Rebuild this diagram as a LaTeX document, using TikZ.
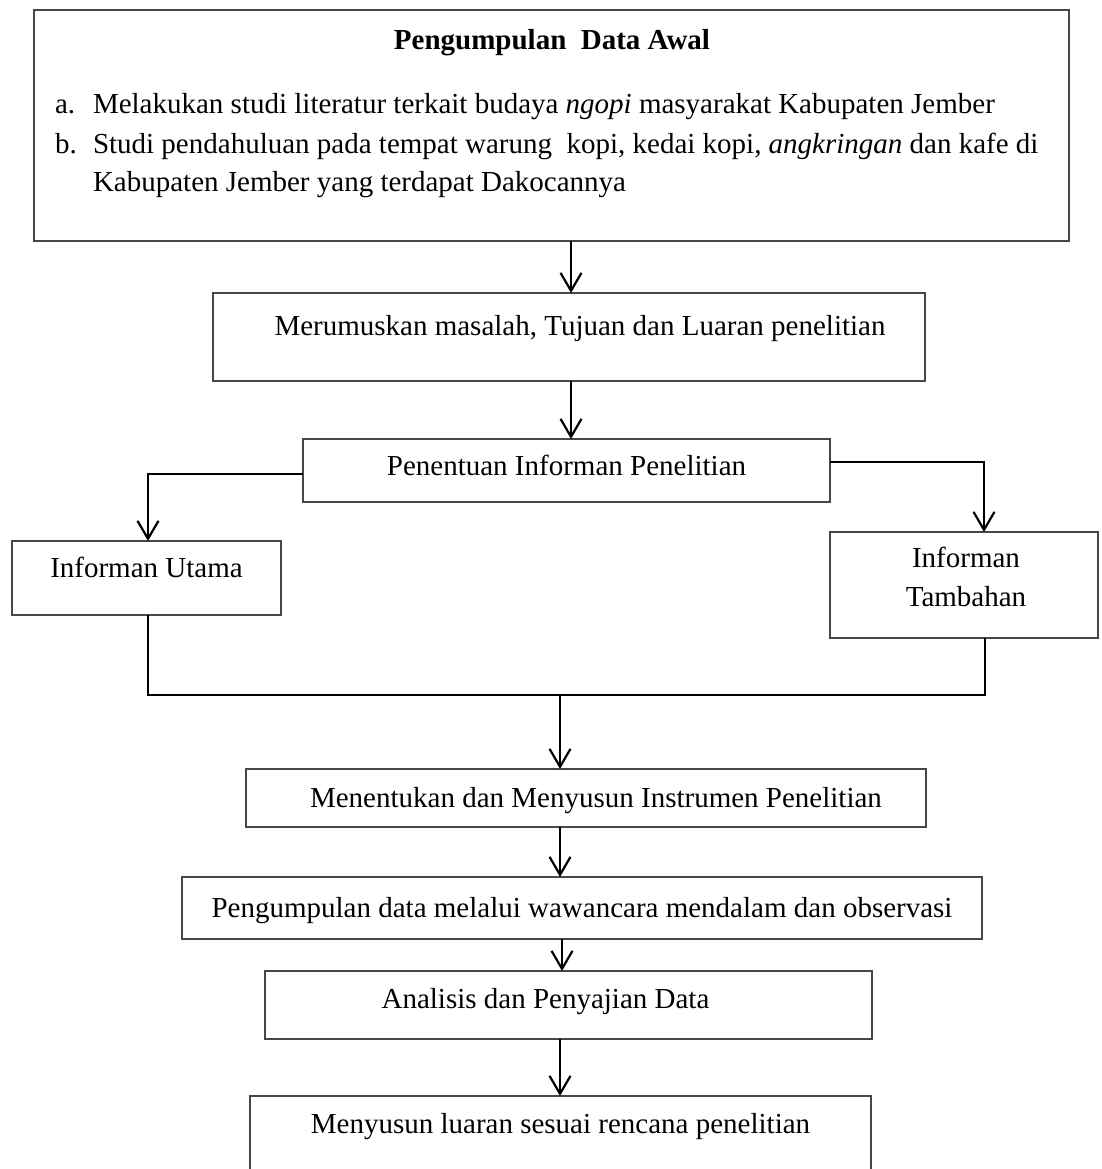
\documentclass[tikz,border=0pt]{standalone}
\usepackage{fontspec}
\setmainfont{Liberation Serif}
\usetikzlibrary{arrows.meta,calc}
\begin{document}
\begin{tikzpicture}[x=1pt,y=-1pt,
  box/.style={draw=black!72,line width=1.4pt,inner sep=0pt,outer sep=0pt},
  txt/.style={inner sep=0pt,outer sep=0pt,font=\fontsize{29pt}{35pt}\selectfont},
  arr/.style={line width=2.2pt,-{Straight Barb[length=18pt,width=21pt]}},
  ln/.style={line width=2pt}
]
\useasboundingbox (0,0) rectangle (1101,1169);
\clip (0,0) rectangle (1101,1169);
\fill[white] (0,0) rectangle (1101,1169);

% boxes
\node[box,minimum width=1035pt,minimum height=231pt] (top) at (551.5,125.5) {};
\node[box,minimum width=712pt,minimum height=88pt] (m) at (569,337) {};
\node[box,minimum width=527pt,minimum height=63pt] (p) at (566.5,470.5) {};
\node[box,minimum width=269pt,minimum height=74pt] (u) at (146.5,578) {};
\node[box,minimum width=268pt,minimum height=106pt] (t) at (964,585) {};
\node[box,minimum width=680pt,minimum height=58pt] (mi) at (586,798) {};
\node[box,minimum width=800pt,minimum height=62pt] (pd) at (582,908) {};
\node[box,minimum width=607pt,minimum height=68pt] (an) at (568.5,1005) {};
\node[box,minimum width=621pt,minimum height=110pt] (ms) at (560.5,1151) {};

% texts
\node[txt,anchor=base,font=\fontsize{29pt}{35pt}\selectfont\bfseries] (title) at (552,50) {Pengumpulan\ \ Data Awal};
\node[txt,anchor=base west] (la) at (55,114) {a.};
\node[txt,anchor=base west] (ta) at (93,114) {Melakukan studi literatur terkait budaya \textit{ngopi} masyarakat Kabupaten Jember};
\node[txt,anchor=base west] (lb) at (55,154) {b.};
\node[txt,anchor=base west] (tb) at (93,154) {Studi pendahuluan pada tempat warung\ \ kopi, kedai kopi, \textit{angkringan} dan kafe di};
\node[txt,anchor=base west] (tc) at (93,192) {Kabupaten Jember yang terdapat Dakocannya};
\node[txt,anchor=base] (tm) at (580,335) {Merumuskan masalah, Tujuan dan Luaran penelitian};
\node[txt,anchor=base] (tp) at (566.5,475) {Penentuan Informan Penelitian};
\node[txt,anchor=base] (tu) at (146.5,577) {Informan Utama};
\node[txt,anchor=base] (tt1) at (966,567) {Informan};
\node[txt,anchor=base] (tt2) at (966,606) {Tambahan};
\node[txt,anchor=base] (tmi) at (596,807) {Menentukan dan Menyusun Instrumen Penelitian};
\node[txt,anchor=base] (tpd) at (582,917) {Pengumpulan data melalui wawancara mendalam dan observasi};
\node[txt,anchor=base] (tan) at (545.5,1008) {Analisis dan Penyajian Data};
\node[txt,anchor=base] (tms) at (560.5,1133) {Menyusun luaran sesuai rencana penelitian};

% connectors
\coordinate (spine) at (560,0);
\coordinate (jl) at (148,695);
\coordinate (jr) at (985,695);
\coordinate (jm) at (560,695);
\coordinate (tbot) at ($(t.south)+(21,0)$);
\coordinate (pl) at ($(p.west)+(0,3.5)$);
\coordinate (pr) at ($(p.east)+(0,-8.5)$);
\coordinate (tin) at ($(t.north)+(20,0)$);

\draw[arr] ($(top.south)+(19.5,0)$) -- ($(m.north)+(2,0)$);
\draw[arr] ($(m.south)+(2,0)$) -- ($(p.north)+(4.5,0)$);
\draw[arr] (pl) -| ($(u.north)+(1.5,0)$);
\draw[arr] (pr) -| (tin);
\draw[ln] ($(u.south)+(1.5,0)$) -- (jl) -- (jr) -- (tbot);
\draw[arr] (jm) -- (jm |- mi.north);
\draw[arr] (spine |- mi.south) -- (spine |- pd.north);
\draw[arr] ($(spine |- pd.south)+(2,0)$) -- ($(spine |- an.north)+(2,0)$);
\draw[arr] (spine |- an.south) -- (spine |- ms.north);
\end{tikzpicture}
\end{document}
